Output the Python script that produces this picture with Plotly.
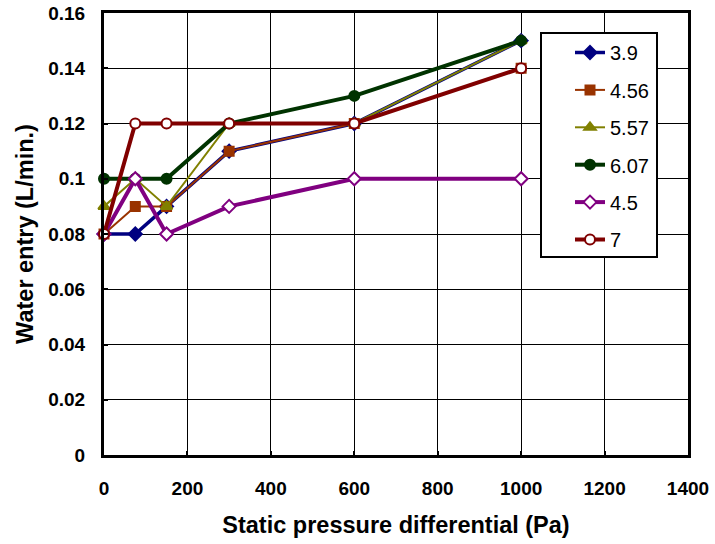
import plotly.graph_objects as go

pressure = [0, 75, 150, 300, 600, 1000]
s39 = [0.08, 0.08, 0.09, 0.11, 0.12, 0.15]
s456 = [0.08, 0.09, 0.09, 0.11, 0.12, 0.14]
s557 = [0.09, 0.10, 0.09, 0.12, 0.12, 0.15]
s607 = [0.10, 0.10, 0.10, 0.12, 0.13, 0.15]
s45 = [0.08, 0.10, 0.08, 0.09, 0.10, 0.10]
s7 = [0.08, 0.12, 0.12, 0.12, 0.12, 0.14]
names = ["3.9", "4.56", "5.57", "6.07", "4.5", "7"]

styles = [
    dict(color="#000080", width=3.5, symbol="diamond", fill="#000080", size=10),
    dict(color="#993300", width=2, symbol="square", fill="#993300", size=9),
    dict(color="#808000", width=2, symbol="triangle-up", fill="#808000", size=10),
    dict(color="#003300", width=4, symbol="circle", fill="#003300", size=10),
    dict(color="#800080", width=4, symbol="diamond", fill="white", size=10),
    dict(color="#800000", width=4, symbol="circle", fill="white", size=10),
]
series = [s39, s456, s557, s607, s45, s7]

FONT = "Liberation Sans, Arial, sans-serif"
W, H = 715, 544
L, T = 104, 13
PW, PH = 584, 442
R, B = W - L - PW, H - T - PH


def px_x(p):
    return (p - L) / PW


def px_y(p):
    return (T + PH - p) / PH


fig = go.Figure()
for i, (nm, ys, st) in enumerate(zip(names, series, styles)):
    fig.add_trace(go.Scatter(
        x=pressure, y=ys, name=nm, mode="lines+markers",
        legendgroup=f"g{i}", cliponaxis=False,
        line=dict(color=st["color"], width=st["width"]),
        marker=dict(symbol=st["symbol"], size=st["size"], color=st["fill"],
                    line=dict(color=st["color"], width=2)),
    ))

# legend box frame
fig.add_shape(type="rect", xref="paper", yref="paper", layer="above",
              x0=px_x(541), x1=px_x(657), y0=px_y(257), y1=px_y(33),
              fillcolor="white", line=dict(color="black", width=2))

fig.update_layout(
    width=W, height=H,
    margin=dict(l=L, r=R, t=T, b=B),
    paper_bgcolor="white", plot_bgcolor="white",
    font=dict(family=FONT, color="black"),
    showlegend=True,
    legend=dict(
        x=px_x(570), y=px_y(33), xanchor="left", yanchor="top",
        bgcolor="rgba(0,0,0,0)", borderwidth=0,
        font=dict(size=20, family=FONT), traceorder="grouped", tracegroupgap=8.4,
    ),
    xaxis=dict(
        range=[0, 1400], dtick=200, showgrid=True, gridcolor="black", gridwidth=1,
        showline=True, linecolor="black", linewidth=3, mirror=True, zeroline=False,
        ticks="inside", ticklen=4, tickwidth=2, tickcolor="black",
        automargin=False, ticklabelstandoff=14, ticklabeloverflow="allow",
        tickfont=dict(size=19, family=FONT),
        tickprefix="<b>", ticksuffix="</b>",
        title=dict(text="<b>Static pressure differential (Pa)</b>",
                   font=dict(size=23.5, family=FONT), standoff=19),
    ),
    yaxis=dict(
        range=[0, 0.16], dtick=0.02, showgrid=True, gridcolor="black", gridwidth=1,
        showline=True, linecolor="black", linewidth=3, mirror=True, zeroline=False,
        ticks="inside", ticklen=4, tickwidth=2, tickcolor="black",
        automargin=False, ticklabelstandoff=12, ticklabeloverflow="allow",
        tickfont=dict(size=19, family=FONT), tickprefix="<b>", ticksuffix="</b>",
        title=dict(text="<b>Water entry (L/min.)</b>",
                   font=dict(size=23.5, family=FONT), standoff=8),
    ),
)

# remove the default 8px page margin so the figure sits at the window origin
fig.write_html(
    "out.html",
    config={"displayModeBar": False},
    post_script="document.body.style.margin='0';document.body.style.overflow='hidden';",
)
